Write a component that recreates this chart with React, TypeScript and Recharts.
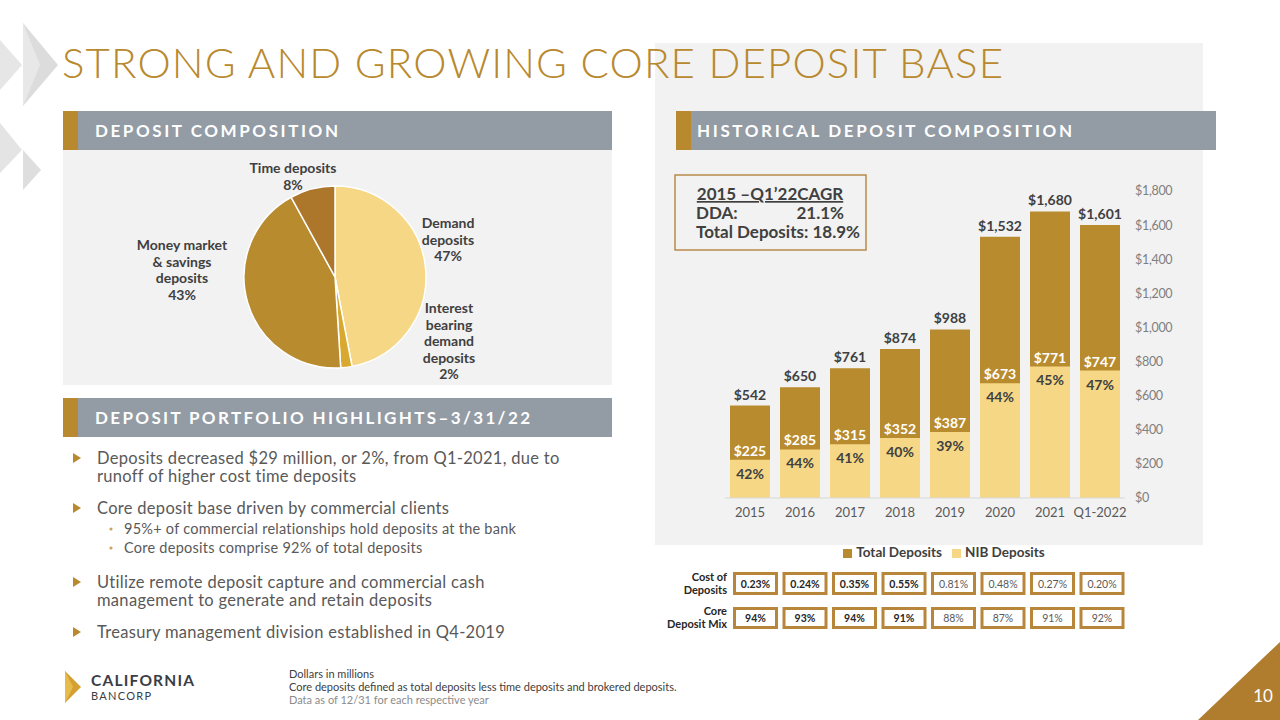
import { Bar, BarChart, LabelList, Legend, Pie, PieChart, Cell, XAxis, YAxis } from "recharts";

// deposit composition (pie)
const mixNames = ["Demand\ndeposits", "Interest\nbearing\ndemand\ndeposits", "Money market\n& savings\ndeposits", "Time deposits"];
const mixShares = [47, 2, 43, 8];

// historical deposits ($M)
const years = ["2015", "2016", "2017", "2018", "2019", "2020", "2021", "Q1-2022"];
const totalDeposits = [542, 650, 761, 874, 988, 1532, 1680, 1601];
const nibDeposits = [225, 285, 315, 352, 387, 673, 771, 747];
const nibShare = [42, 44, 41, 40, 39, 44, 45, 47];
const yTicks = [0, 200, 400, 600, 800, 1000, 1200, 1400, 1600, 1800];

const costOfDeposits = ["0.23%", "0.24%", "0.35%", "0.55%", "0.81%", "0.48%", "0.27%", "0.20%"];
const coreDepositMix = ["94%", "93%", "94%", "91%", "88%", "87%", "91%", "92%"];

const pieData = mixNames.map((name, i) => ({ name, value: mixShares[i] }));
const barData = years.map((year, i) => ({
  year,
  total: totalDeposits[i],
  nib: nibDeposits[i],
  share: nibShare[i],
}));

const GOLD = "#b88b2f";
const LIGHT = "#f6d785";
const pieColors = [LIGHT, "#d8a92e", GOLD, "#ad772b"];
const FONT = "Lato, 'Open Sans', sans-serif";
const DARK = "#404040";

// where PowerPoint put each pie label, relative to the pie centre
const labelSpots = [
  { dx: 113, dy: -54 },
  { dx: 114, dy: 31 },
  { dx: -153, dy: -32 },
  { dx: -42, dy: -109 },
];

const renderPieLabel = (props: any) => {
  const { cx, cy, index, name, value } = props;
  const spot = labelSpots[index];
  const lines = [...String(name).split("\n"), `${value}%`];
  return (
    <text
      x={cx + spot.dx}
      y={cy + spot.dy}
      textAnchor="middle"
      fill={DARK}
      fontSize={14}
      fontWeight={700}
      fontFamily={FONT}
    >
      {lines.map((l, k) => (
        <tspan key={k} x={cx + spot.dx} dy={k === 0 ? 5 : 16.5}>
          {l}
        </tspan>
      ))}
    </text>
  );
};

const bullets = [
  { lines: ["Deposits decreased $29 million, or 2%, from Q1-2021, due to", "runoff of higher cost time deposits"], y: 458 },
  { lines: ["Core deposit base driven by commercial clients"], y: 508 },
  { lines: ["Utilize remote deposit capture and commercial cash", "management to generate and retain deposits"], y: 582 },
  { lines: ["Treasury management division established in Q4-2019"], y: 632 },
];
const subBullets = [
  { text: "95%+ of commercial relationships hold deposits at the bank", y: 529 },
  { text: "Core deposits comprise 92% of total deposits", y: 548 },
];

function Background() {
  return (
    <svg width={1280} height={720} style={{ position: "absolute", left: 0, top: 0 }}>
      {/* chevrons */}
      <polygon points="0,40 22,65 0,90" fill="#e6e6e6" />
      <polygon points="23,23 58,65 23,106" fill="#dcdcdc" />
      <polygon points="23,23 40,65 23,106" fill="#e8e8e8" />
      <polygon points="0,123 22,150 0,173" fill="#e4e4e4" />
      <polygon points="23,150 41,170 23,190" fill="#dedede" />

      {/* panels */}
      <rect x={655} y={43} width={548} height={502} fill="#f2f2f2" />
      <rect x={63} y={150} width={549} height={235} fill="#f2f2f2" />

      <text x={62} y={78} fontFamily={FONT} fontWeight={300} fontSize={42} fill="#b8892e" textLength={941} lengthAdjust="spacing">
        STRONG AND GROWING CORE DEPOSIT BASE
      </text>

      {/* section headers */}
      <rect x={63} y={111} width={549} height={39} fill="#939ba5" />
      <rect x={63} y={111} width={15} height={39} fill="#b8892e" />
      <text x={95} y={137} fontFamily={FONT} fontWeight={700} fontSize={17} fill="#fff" textLength={243} lengthAdjust="spacing">
        DEPOSIT COMPOSITION
      </text>
      <rect x={676} y={111} width={540} height={39} fill="#939ba5" />
      <rect x={676} y={111} width={15} height={39} fill="#b8892e" />
      <text x={697} y={137} fontFamily={FONT} fontWeight={700} fontSize={17} fill="#fff" textLength={375} lengthAdjust="spacing">
        HISTORICAL DEPOSIT COMPOSITION
      </text>
      <rect x={63} y={398} width={549} height={39} fill="#939ba5" />
      <rect x={63} y={398} width={15} height={39} fill="#b8892e" />
      <text x={95} y={424} fontFamily={FONT} fontWeight={700} fontSize={17} fill="#fff" textLength={435} lengthAdjust="spacing">
        DEPOSIT PORTFOLIO HIGHLIGHTS–3/31/22
      </text>

      {/* CAGR box */}
      <rect x={675} y={175} width={191} height={75} fill="none" stroke="#b88a4a" strokeWidth={1.5} />
      <g fontFamily={FONT} fontWeight={700} fontSize={17} fill={DARK}>
        <text x={770} y={200} textAnchor="middle" textDecoration="underline">2015 –Q1’22CAGR</text>
        <text x={696} y={219}>DDA:</text>
        <text x={844} y={219} textAnchor="end">21.1%</text>
        <text x={696} y={238}>Total Deposits: 18.9%</text>
      </g>

      {/* cost / mix table */}
      <g fontFamily={FONT} fontSize={11} fontWeight={700} fill="#262626" textAnchor="end">
        <text x={727} y={581}>Cost of</text>
        <text x={727} y={594}>Deposits</text>
        <text x={727} y={615}>Core</text>
        <text x={727} y={628}>Deposit Mix</text>
      </g>
      {costOfDeposits.map((v, i) => (
        <g key={"c" + i}>
          <rect x={734.5 + i * 49.5} y={573.5} width={42} height={20} fill="#fff" stroke="#b8863a" strokeWidth={3} />
          <text x={755.5 + i * 49.5} y={587.5} textAnchor="middle" fontFamily={FONT} fontSize={10.5} fontWeight={i < 4 ? 700 : 400} fill={i < 4 ? "#262626" : "#595959"}>{v}</text>
        </g>
      ))}
      {coreDepositMix.map((v, i) => (
        <g key={"m" + i}>
          <rect x={734.5 + i * 49.5} y={608.5} width={42} height={19} fill="#fff" stroke="#b8863a" strokeWidth={3} />
          <text x={755.5 + i * 49.5} y={622} textAnchor="middle" fontFamily={FONT} fontSize={10.5} fontWeight={i < 4 ? 700 : 400} fill={i < 4 ? "#262626" : "#595959"}>{v}</text>
        </g>
      ))}

      {/* bullets */}
      <g fontFamily={FONT} fontSize={16.5} fill="#595959" letterSpacing={0.3}>
        {bullets.map((b, i) => (
          <g key={i}>
            <polygon points={`73,${b.y - 5} 81,${b.y} 73,${b.y + 5}`} fill="#b8892e" />
            {b.lines.map((l, k) => (
              <text key={k} x={97} y={b.y + 5.5 + k * 18}>{l}</text>
            ))}
          </g>
        ))}
        {subBullets.map((s, i) => (
          <g key={"s" + i}>
            <circle cx={111} cy={s.y} r={1.6} fill="#c9a45c" />
            <text x={124} y={s.y + 5} fontSize={14.5} letterSpacing={0.25}>{s.text}</text>
          </g>
        ))}
      </g>

      {/* footer */}
      <polygon points="65,671 81,687 65,703" fill="#d4a032" />
      <polygon points="65,671 73,687 65,703" fill="#e7bc4a" />
      <text x={91} y={686} fontFamily={FONT} fontWeight={700} fontSize={15.5} fill="#3a3d45" textLength={103} lengthAdjust="spacing">CALIFORNIA</text>
      <text x={91} y={700} fontFamily={FONT} fontSize={11} fill="#3a3d45" textLength={60} lengthAdjust="spacing">BANCORP</text>
      <g fontFamily={FONT} fontSize={11} fill={DARK}>
        <text x={289} y={678}>Dollars in millions</text>
        <text x={289} y={691}>Core deposits defined as total deposits less time deposits and brokered deposits.</text>
        <text x={289} y={704} fill="#8c8c8c">Data as of 12/31 for each respective year</text>
      </g>
      <polygon points="1198,720 1280,642 1280,720" fill="#b07d2e" />
      <text x={1263} y={702} textAnchor="middle" fontFamily={FONT} fontSize={17} fill="#fff">10</text>
    </svg>
  );
}

export default function App() {
  return (
    <div style={{ position: "absolute", left: 0, top: 0, width: 1280, height: 720, background: "#fff", overflow: "hidden", fontFamily: FONT }}>
      <Background />

      <div style={{ position: "absolute", left: 63, top: 150 }}>
        <PieChart width={549} height={235}>
          <Pie
            data={pieData}
            dataKey="value"
            nameKey="name"
            cx={267}
            cy={122}
            outerRadius={91}
            startAngle={90}
            endAngle={-270}
            stroke="#fff"
            strokeWidth={1.5}
            labelLine={false}
            label={renderPieLabel}
            isAnimationActive={false}
          >
            {pieData.map((d, i) => (
              <Cell key={d.name} fill={pieColors[i]} />
            ))}
          </Pie>
        </PieChart>
      </div>

      <div style={{ position: "absolute", left: 655, top: 150 }}>
        <BarChart width={548} height={420} data={barData} margin={{ top: 41, right: 13, left: 70, bottom: 42 }}>
          <XAxis
            xAxisId="a"
            dataKey="year"
            height={30}
            interval={0}
            tickLine={false}
            tickSize={0}
            tickMargin={10}
            axisLine={{ stroke: "#d9d9d9" }}
            tick={{ fill: "#595959", fontSize: 13, fontFamily: FONT }}
          />
          <XAxis xAxisId="b" dataKey="year" hide />
          <YAxis
            orientation="right"
            width={65}
            domain={[0, 1800]}
            ticks={yTicks}
            tickLine={false}
            tickSize={0}
            tickMargin={10}
            axisLine={false}
            tickFormatter={(v: number) => `$${v.toLocaleString("en-US")}`}
            tick={{ fill: "#7f7f7f", fontSize: 12.5, fontFamily: FONT, letterSpacing: -0.3 }}
          />
          <Legend
            layout="horizontal"
            verticalAlign="middle"
            align="center"
            iconType="square"
            iconSize={9}
            itemSorter={(item: any) => (item.dataKey === "total" ? 0 : 1)}
            wrapperStyle={{ top: 394, left: 149, width: 290, fontFamily: FONT, fontSize: 13.5, fontWeight: 700 }}
            formatter={(value: string) => <span style={{ color: DARK }}>{value}</span>}
          />
          <Bar xAxisId="a" dataKey="total" name="Total Deposits" fill={GOLD} barSize={40} isAnimationActive={false}>
            <LabelList
              dataKey="total"
              position="top"
              offset={6}
              formatter={(v: any) => `$${Number(v).toLocaleString("en-US")}`}
              style={{ fill: DARK, fontSize: 14, fontWeight: 700, fontFamily: FONT }}
            />
          </Bar>
          <Bar xAxisId="b" dataKey="nib" name="NIB Deposits" fill={LIGHT} barSize={40} isAnimationActive={false}>
            <LabelList
              dataKey="nib"
              position="top"
              offset={4}
              formatter={(v: any) => `$${v}`}
              style={{ fill: "#fff", fontSize: 14, fontWeight: 700, fontFamily: FONT }}
            />
            <LabelList
              dataKey="share"
              position="insideTop"
              offset={9}
              formatter={(v: any) => `${v}%`}
              style={{ fill: DARK, fontSize: 14, fontWeight: 700, fontFamily: FONT }}
            />
          </Bar>
        </BarChart>
      </div>
    </div>
  );
}
